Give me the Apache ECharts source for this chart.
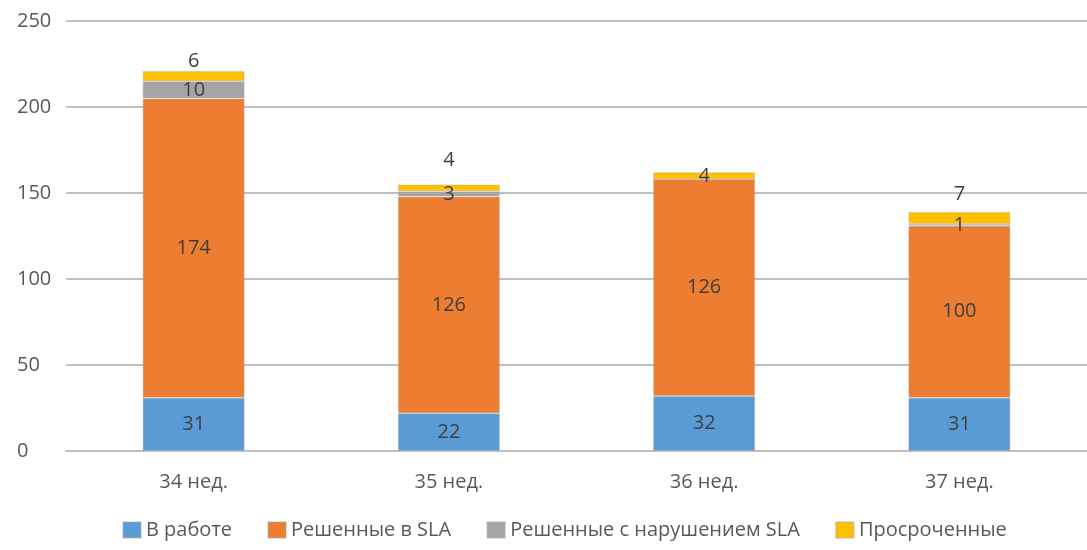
<!DOCTYPE html>
<html>
<head>
<meta charset="utf-8">
<script src="https://cdn.jsdelivr.net/npm/echarts@6/dist/echarts.min.js"></script>
<style>
html,body{margin:0;padding:0;background:#fff;}
#c{width:1087px;height:550px;}
</style>
</head>
<body>
<div id="c"></div>
<script>
var categories = ['34 нед.', '35 нед.', '36 нед.', '37 нед.'];
var seriesNames = ['В работе', 'Решенные в SLA', 'Решенные с нарушением SLA', 'Просроченные'];
var inWork = [31, 22, 32, 31];
var solvedInSla = [174, 126, 126, 100];
var solvedSlaBreach = [10, 3, 0, 1];
var overdue = [6, 4, 4, 7];
var yTicks = [0, 50, 100, 150, 200, 250];

var colors = ['#5B9BD5', '#ED7D31', '#A5A5A5', '#FFC000'];
var font = '"Open Sans", "Noto Sans", sans-serif';
var labelBase = {
  show: true, position: 'inside', color: '#404040', fontSize: 20, fontFamily: font,
  formatter: function (p) { return p.value === 0 ? '' : String(p.value); }
};
// per-bar placement of the top series labels (as in the reference)
var overduePlacement = [
  { position: 'top', distance: 0 },
  { position: 'top', distance: 14 },
  { position: 'inside' },
  { position: 'top', distance: 8 }
];
function mk(name, arr, idx, placement) {
  return {
    name: name, type: 'bar', stack: 'total', barWidth: 102,
    itemStyle: { color: colors[idx], borderColor: 'rgba(170,170,170,0.35)', borderWidth: 1 },
    label: labelBase,
    data: arr.map(function (v, i) {
      var d = { value: v };
      if (placement) d.label = placement[i];
      return d;
    })
  };
}

var chart = echarts.init(document.getElementById('c'), null, { renderer: 'canvas' });
chart.setOption({
  animation: false,
  color: colors,
  grid: { left: 66, right: 0, top: 21, bottom: 99, containLabel: false },
  legend: {
    bottom: 5, left: 117, itemWidth: 18, itemHeight: 16, itemGap: 35,
    icon: 'rect',
    textStyle: { color: '#595959', fontSize: 20, fontFamily: font },
    data: seriesNames
  },
  xAxis: {
    type: 'category', data: categories,
    axisLine: { lineStyle: { color: '#BFBFBF', width: 2 } },
    axisTick: { show: false },
    axisLabel: { color: '#595959', fontSize: 20, fontFamily: font, margin: 21 }
  },
  yAxis: {
    type: 'value', min: yTicks[0], max: yTicks[yTicks.length - 1], interval: 50,
    axisLine: { show: false }, axisTick: { show: false },
    splitLine: { lineStyle: { color: '#BFBFBF', width: 2 } },
    axisLabel: { color: '#595959', fontSize: 20, fontFamily: font, align: 'left', margin: 49 }
  },
  series: [
    mk(seriesNames[0], inWork, 0),
    mk(seriesNames[1], solvedInSla, 1),
    mk(seriesNames[2], solvedSlaBreach, 2),
    mk(seriesNames[3], overdue, 3, overduePlacement)
  ]
});
</script>
</body>
</html>
